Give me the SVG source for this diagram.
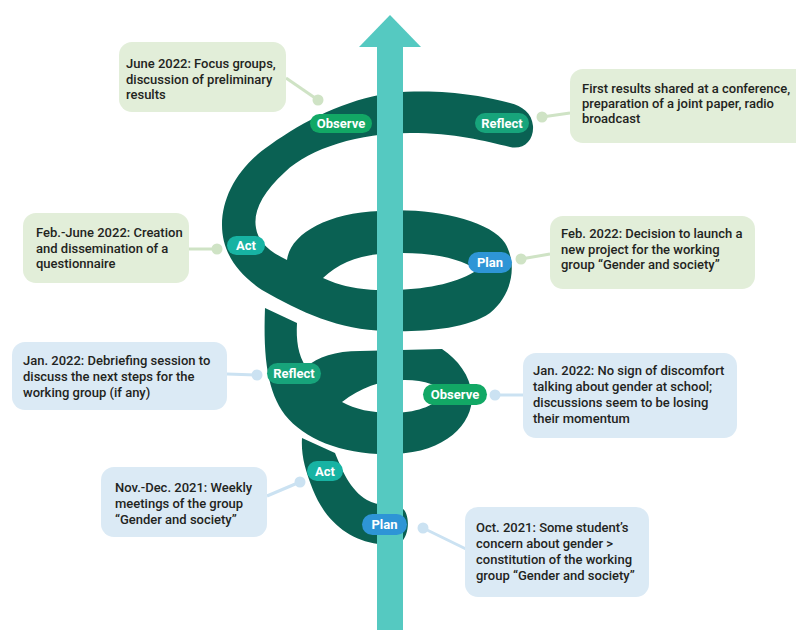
<svg xmlns="http://www.w3.org/2000/svg" width="796" height="630" viewBox="0 0 796 630">
<style>
.bg{fill:#e2eed9}
.bb{fill:#dbeaf5}
.lg{stroke:#cfe3c5;stroke-width:3;fill:none}
.lb{stroke:#cbe2f2;stroke-width:3;fill:none}
.dg{fill:#cfe3c5}
.db{fill:#cbe2f2}
.t{font-family:Roboto,"Liberation Sans",sans-serif;font-weight:500;font-size:13px;fill:#1f2421}
.sp{fill:#0a6153;fill-rule:evenodd}
.bl{font-family:Roboto,"Liberation Sans",sans-serif;font-weight:700;font-size:13px;fill:#ffffff;text-anchor:middle}
.obs{fill:#12a865}
.ref{fill:#17a47b}
.act{fill:#17b3a3}
.pln{fill:#2e95d6}
</style>
<g id="connectors">
<line class="lg" x1="286" y1="78" x2="318" y2="100"/><circle class="dg" cx="318" cy="100" r="5.5"/>
<line class="lg" x1="570" y1="113" x2="542" y2="117"/><circle class="dg" cx="542" cy="117" r="5.5"/>
<line class="lg" x1="189" y1="249" x2="217" y2="249"/><circle class="dg" cx="217" cy="249" r="5.5"/>
<line class="lg" x1="550" y1="254" x2="521" y2="259"/><circle class="dg" cx="521" cy="259" r="5.5"/>
<line class="lb" x1="227" y1="374" x2="257" y2="375"/><circle class="db" cx="257" cy="375" r="5.5"/>
<line class="lb" x1="523" y1="395" x2="495" y2="395"/><circle class="db" cx="495" cy="395" r="5.5"/>
<line class="lb" x1="267" y1="496" x2="300" y2="482"/><circle class="db" cx="300" cy="482" r="5.5"/>
<line class="lb" x1="466" y1="549" x2="423" y2="528"/><circle class="db" cx="423" cy="528" r="5.5"/>
</g>
<g id="box-june2022">
<rect class="bg" x="119" y="42" width="167" height="70" rx="13"/>
<text class="t" x="126" y="68">June 2022: Focus groups,</text>
<text class="t" x="126" y="84">discussion of preliminary</text>
<text class="t" x="126" y="99">results</text>
</g>
<g id="box-first-results">
<rect class="bg" x="570" y="69" width="250" height="74" rx="13"/>
<text class="t" x="582" y="93">First results shared at a conference,</text>
<text class="t" x="582" y="108">preparation of a joint paper, radio</text>
<text class="t" x="582" y="123">broadcast</text>
</g>
<g id="box-feb-june2022">
<rect class="bg" x="23" y="213" width="166" height="70" rx="13"/>
<text class="t" x="36" y="237">Feb.-June 2022: Creation</text>
<text class="t" x="36" y="253">and dissemination of a</text>
<text class="t" x="36" y="268">questionnaire</text>
</g>
<g id="box-feb2022">
<rect class="bg" x="550" y="216" width="205" height="73" rx="13"/>
<text class="t" x="561" y="238">Feb. 2022: Decision to launch a</text>
<text class="t" x="561" y="254">new project for the working</text>
<text class="t" x="561" y="269">group “Gender and society”</text>
</g>
<g id="box-jan2022-debrief">
<rect class="bb" x="12" y="342" width="215" height="68" rx="13"/>
<text class="t" x="23" y="365">Jan. 2022: Debriefing session to</text>
<text class="t" x="23" y="381">discuss the next steps for the</text>
<text class="t" x="23" y="397">working group (if any)</text>
</g>
<g id="box-jan2022-nosign">
<rect class="bb" x="523" y="353" width="214" height="85" rx="13"/>
<text class="t" x="533" y="375">Jan. 2022: No sign of discomfort</text>
<text class="t" x="533" y="391">talking about gender at school;</text>
<text class="t" x="533" y="407">discussions seem to be losing</text>
<text class="t" x="533" y="423">their momentum</text>
</g>
<g id="box-nov-dec2021">
<rect class="bb" x="101" y="467" width="166" height="70" rx="13"/>
<text class="t" x="115" y="492">Nov.-Dec. 2021: Weekly</text>
<text class="t" x="115" y="508">meetings of the group</text>
<text class="t" x="115" y="524">“Gender and society”</text>
</g>
<g id="box-oct2021">
<rect class="bb" x="465" y="507" width="184" height="90" rx="13"/>
<text class="t" x="476" y="532">Oct. 2021: Some student’s</text>
<text class="t" x="476" y="548">concern about gender &gt;</text>
<text class="t" x="476" y="564">constitution of the working</text>
<text class="t" x="476" y="580">group “Gender and society”</text>
</g>
<g id="spiral">
<path class="sp" d="M510,103 C522,106 532,113 533,126 C534,140 524,150 510,147 C485,141 455,133 410,133 C360,133 310,148 285,172 C262,193 253,212 256,228 C258,242 270,252 287,260 C290,235 325,213 380,211 C430,207 490,220 505,243 C518,265 512,295 490,313 C465,330 420,332 385,331 C340,330 300,312 262,290 C235,272 222,250 222,225 C222,195 240,165 270,145 C305,120 345,100 390,93 C440,88 485,96 510,103 Z M323,278 C340,262 360,254 395,253 C430,252 460,258 477,270 C460,282 430,289 395,290 C360,291 340,286 323,278 Z"/>
<path class="sp" d="M265,308 L297,323 C296,340 298,355 306,367 C318,357 335,351 360,351 L442,349 C458,360 470,375 472,395 C473,425 445,452 395,454 C345,456 305,440 285,415 C268,392 263,360 265,308 Z M342,402 C360,388 380,380 405,380 C425,380 440,386 447,393 C435,405 420,412 395,413 C370,413 355,409 342,402 Z"/>
<path class="sp" d="M302,438 L335,453 C342,470 350,490 367,500 C378,506 392,506 400,507 C410,510 411,535 400,543 C394,546 385,545 378,544 C348,540 325,520 313,490 C305,470 301,455 302,438 Z"/>
</g>
<g id="arrow">
<rect x="377" y="46" width="26" height="590" fill="#55c9c1"/>
<polygon points="390,15 421,47 359,47" fill="#55c9c1"/>
</g>
<g id="badge-observe-top"><rect class="obs" x="310" y="114" width="62" height="19" rx="9.5"/><text class="bl" x="341" y="128">Observe</text></g>
<g id="badge-reflect-top"><rect class="ref" x="475" y="113" width="54" height="20" rx="10"/><text class="bl" x="502" y="127.5">Reflect</text></g>
<g id="badge-act-mid"><rect class="act" x="227" y="236" width="38" height="19" rx="9.5"/><text class="bl" x="246" y="250">Act</text></g>
<g id="badge-plan-mid"><rect class="pln" x="468" y="252" width="44" height="21" rx="10.5"/><text class="bl" x="490" y="267">Plan</text></g>
<g id="badge-reflect-mid"><rect class="ref" x="267" y="363" width="54" height="21" rx="10.5"/><text class="bl" x="294" y="378">Reflect</text></g>
<g id="badge-observe-mid"><rect class="obs" x="423" y="384" width="64" height="21" rx="10.5"/><text class="bl" x="455" y="399">Observe</text></g>
<g id="badge-act-bottom"><rect class="act" x="307" y="461" width="36" height="20" rx="10"/><text class="bl" x="325" y="475.5">Act</text></g>
<g id="badge-plan-bottom"><rect class="pln" x="362" y="514" width="45" height="21" rx="10.5"/><text class="bl" x="384.5" y="529">Plan</text></g>
</svg>
